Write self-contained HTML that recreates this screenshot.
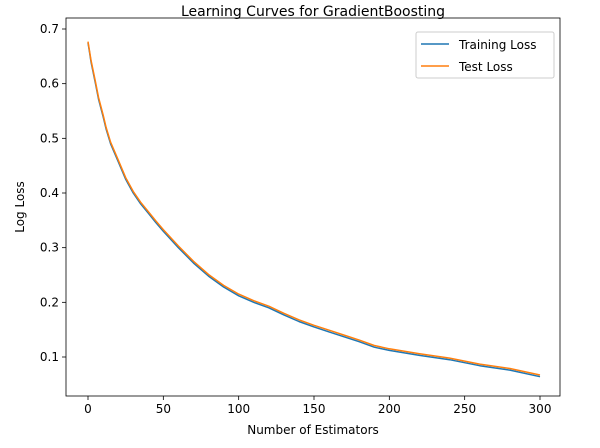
<!DOCTYPE html>
<html><head><meta charset="utf-8"><style>
body{margin:0;background:#fff;}
svg text{font-family:"DejaVu Sans","Liberation Sans",sans-serif;fill:#000;}
</style></head><body>
<svg id="chart" width="600" height="443" xmlns="http://www.w3.org/2000/svg">
<text x="313" y="16" font-size="14" text-anchor="middle">Learning Curves for GradientBoosting</text>
<g id="plot"></g>
<text x="313" y="434" font-size="12" text-anchor="middle">Number of Estimators</text>
<text transform="translate(24,207) rotate(-90)" font-size="12" text-anchor="middle">Log Loss</text>
<g>
<rect x="416" y="32" width="138" height="46" fill="#fff" stroke="#ccc" rx="2"/>
<line x1="421" y1="44" x2="449" y2="44" stroke="#1f77b4" stroke-width="1.5"/>
<text x="459" y="49" font-size="12">Training Loss</text>
<line x1="421" y1="66" x2="449" y2="66" stroke="#ff7f0e" stroke-width="1.5"/>
<text x="459" y="71" font-size="12">Test Loss</text>
</g>
</svg>
<script>
const estimators=[0,1,2,5,7,10,12,15,20,25,30,35,40,45,50,60,70,80,90,100,110,120,130,140,150,160,170,180,190,200,220,240,260,280,300];
const trainLoss=[0.675,0.658,0.64,0.60,0.572,0.54,0.517,0.49,0.458,0.425,0.40,0.38,0.363,0.346,0.33,0.30,0.272,0.248,0.228,0.212,0.200,0.190,0.177,0.165,0.155,0.146,0.137,0.128,0.118,0.112,0.103,0.095,0.084,0.076,0.064];
const testLoss=[0.677,0.660,0.643,0.603,0.575,0.543,0.520,0.493,0.461,0.428,0.403,0.383,0.366,0.349,0.333,0.303,0.275,0.251,0.231,0.215,0.203,0.193,0.180,0.168,0.158,0.149,0.140,0.131,0.121,0.115,0.106,0.098,0.087,0.079,0.067];
const xTicks=[0,50,100,150,200,250,300];
const yTicks=[0.1,0.2,0.3,0.4,0.5,0.6,0.7];
const L=66,R=560,T=18,B=396;
const xs=v=>88+(v/300)*452;
const ys=v=>357-(v-0.1)/0.6*328;
const ns="http://www.w3.org/2000/svg";
const g=document.getElementById('plot');
function mk(t,a){const e=document.createElementNS(ns,t);for(const k in a)e.setAttribute(k,a[k]);g.appendChild(e);return e;}
const fr=mk('rect',{x:L,y:T,width:R-L,height:B-T,fill:'none',stroke:'#000','stroke-width':0.8});


xTicks.forEach(v=>{const x=xs(v);
const l=mk('line',{x1:x,y1:B,x2:x,y2:B+4,stroke:'#000','stroke-width':0.8});


const t=mk('text',{x:x,y:B+17,'font-size':12,'text-anchor':'middle'});t.textContent=v;

});
yTicks.forEach(v=>{const y=ys(v);
const l=mk('line',{x1:L-4,y1:y,x2:L,y2:y,stroke:'#000','stroke-width':0.8});


const t=mk('text',{x:L-7,y:y+4,'font-size':12,'text-anchor':'end'});t.textContent=v.toFixed(1);

});
function line(arr,c,name){const d=arr.map((v,i)=>(i?'L':'M')+xs(estimators[i]).toFixed(1)+','+ys(v).toFixed(1)).join('');
const p=mk('path',{d:d,fill:'none',stroke:c,'stroke-width':1.5,'stroke-linejoin':'round'});

}
line(trainLoss,'#1f77b4','training-loss-line');
line(testLoss,'#ff7f0e','test-loss-line');
</script>
</body></html>
